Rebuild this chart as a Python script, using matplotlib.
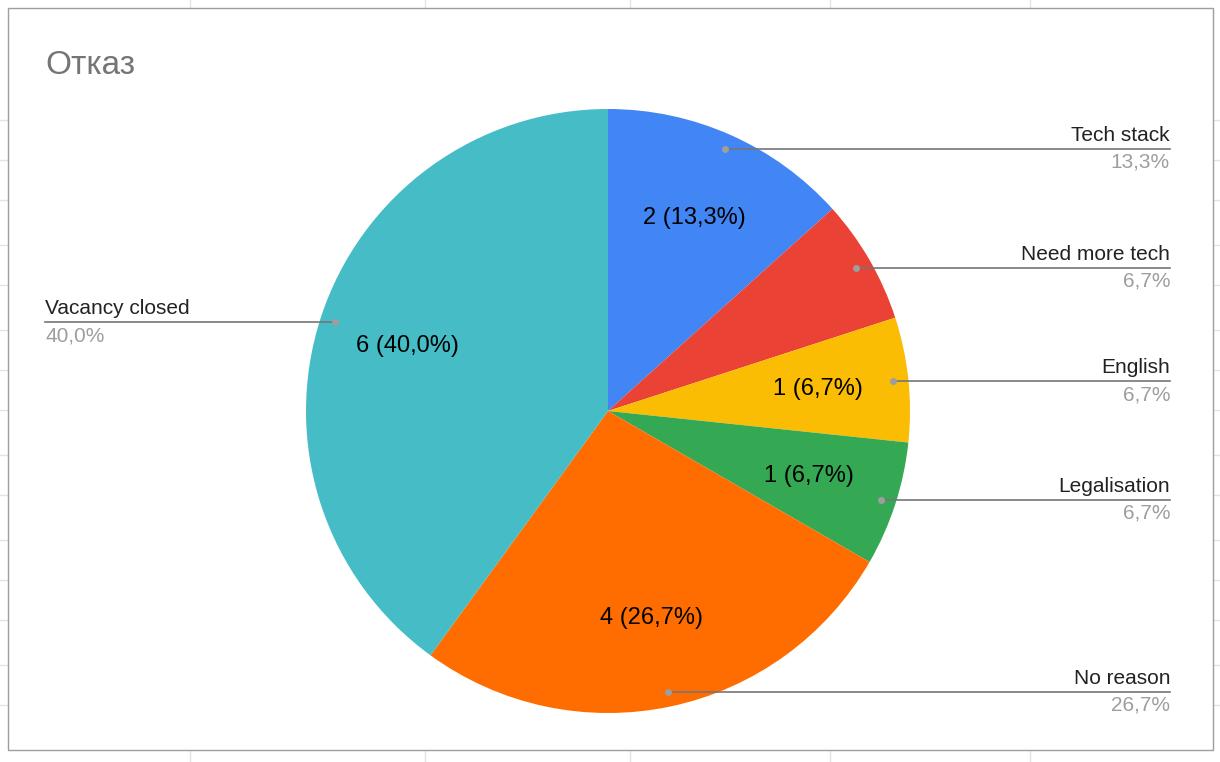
import matplotlib
matplotlib.use("Agg")
import matplotlib.pyplot as plt
import numpy as np
from matplotlib.patches import Rectangle

plt.rcParams['font.family'] = ['Liberation Sans', 'DejaVu Sans']

labels = ["Tech stack", "Need more tech", "English", "Legalisation", "No reason", "Vacancy closed"]
values = [2, 1, 1, 1, 4, 6]
colors = ["#4285F4", "#EA4335", "#FBBC04", "#34A853", "#FF6D01", "#46BDC6"]
show_inside = [True, False, True, True, True, True]

fig = plt.figure(figsize=(12.2, 7.62), dpi=100)
ax = fig.add_axes([0, 0, 1, 1])
ax.set_xlim(0, 1220); ax.set_ylim(762, 0); ax.axis('off')

# spreadsheet grid behind
for x in [190, 425, 630, 830, 1030]:
    ax.plot([x, x], [0, 762], color="#e3e3e3", lw=1, zorder=0)
for y in [120, 160, 200, 245, 285, 330, 370, 410, 455, 495, 540, 580, 620, 665, 705]:
    ax.plot([0, 8], [y, y], color="#e3e3e3", lw=1, zorder=0)
    ax.plot([1213, 1220], [y, y], color="#e3e3e3", lw=1, zorder=0)
ax.add_patch(Rectangle((8, 8), 1205, 742, facecolor="white", edgecolor="#9e9e9e", lw=1, zorder=0.5))

ax.text(45, 65, "Отказ", fontsize=24, color="#757575", va="center", ha="left")

cx, cy, R = 608, 411, 302
total = sum(values)
wedges, _ = ax.pie(values, colors=colors, startangle=-90, counterclock=True,
                   center=(cx, cy), radius=R, frame=True,
                   wedgeprops=dict(linewidth=0, zorder=1))
ax.set_xlim(0, 1220); ax.set_ylim(762, 0); ax.axis('off')

for w, lab, v, show in zip(wedges, labels, values, show_inside):
    mid = np.deg2rad((w.theta1 + w.theta2) / 2)
    pct = f"{100 * v / total:.1f}%".replace(".", ",")
    if show:
        r = 0.7 * R
        ax.text(cx + r * np.cos(mid), cy + r * np.sin(mid), f"{v} ({pct})",
                fontsize=17, ha="center", va="center", color="black", zorder=3)
    dx, dy = cx + 0.95 * R * np.cos(mid), cy + 0.95 * R * np.sin(mid)
    ax.plot(dx, dy, 'o', ms=4, color="#9e9e9e", zorder=4)
    if dx > cx:
        ex = 1170
        ax.plot([dx, ex], [dy, dy], color="#757575", lw=1.2, zorder=3)
        ax.text(ex, dy - 4, lab, fontsize=15, ha="right", va="bottom", color="#222222")
        ax.text(ex, dy + 4, pct, fontsize=15, ha="right", va="top", color="#9e9e9e")
    else:
        ex = 45
        ax.plot([ex, dx], [dy, dy], color="#757575", lw=1.2, zorder=3)
        ax.text(ex, dy - 4, lab, fontsize=15, ha="left", va="bottom", color="#222222")
        ax.text(ex, dy + 4, pct, fontsize=15, ha="left", va="top", color="#9e9e9e")

fig.savefig("out.png", dpi=100)
